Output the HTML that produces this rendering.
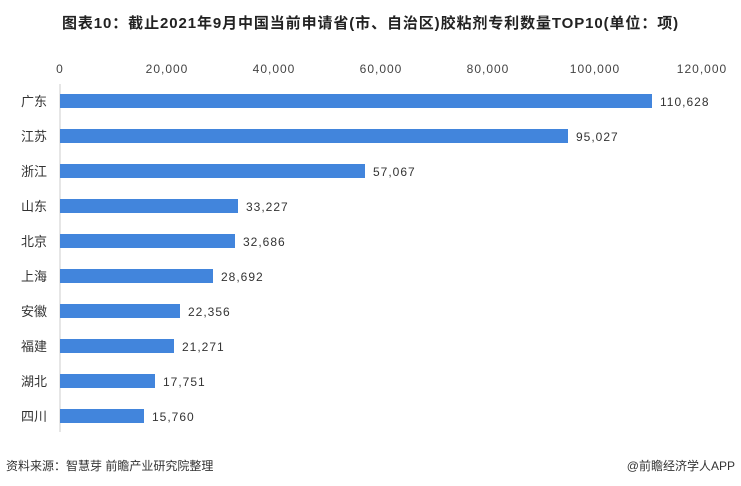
<!DOCTYPE html>
<html><head><meta charset="utf-8"><style>
body{margin:0;background:#fff;width:741px;height:486px;overflow:hidden;position:relative;font-family:"Liberation Sans","Noto Sans CJK SC",sans-serif;color:#333}
.t{position:absolute;white-space:nowrap}
</style></head><body>
<div class="t" style="left:0;width:741px;top:12px;text-align:center;font-size:15px;font-weight:bold;color:#222;letter-spacing:0.9px">图表10：截止2021年9月中国当前申请省(市、自治区)胶粘剂专利数量TOP10(单位：项)</div>
<svg width="741" height="486" style="position:absolute;left:0;top:0" font-family="Liberation Sans, Noto Sans CJK SC, sans-serif">
<g font-size="12" fill="#444" text-anchor="middle" letter-spacing="1">
<text x="60" y="73">0</text><text x="167" y="73">20,000</text><text x="274" y="73">40,000</text><text x="381" y="73">60,000</text><text x="488" y="73">80,000</text><text x="595" y="73">100,000</text><text x="702" y="73">120,000</text>
</g>
<line x1="60" y1="84" x2="60" y2="432" stroke="#ccc"/>
<g fill="#4285dc">
<rect x="60" y="94" width="592" height="14"/>
<rect x="60" y="129" width="508" height="14"/>
<rect x="60" y="164" width="305" height="14"/>
<rect x="60" y="199" width="178" height="14"/>
<rect x="60" y="234" width="175" height="14"/>
<rect x="60" y="269" width="153" height="14"/>
<rect x="60" y="304" width="120" height="14"/>
<rect x="60" y="339" width="114" height="14"/>
<rect x="60" y="374" width="95" height="14"/>
<rect x="60" y="409" width="84" height="14"/>
</g>
<g font-size="13" fill="#333" text-anchor="end">
<text x="47" y="106">广东</text><text x="47" y="141">江苏</text><text x="47" y="176">浙江</text><text x="47" y="211">山东</text><text x="47" y="246">北京</text><text x="47" y="281">上海</text><text x="47" y="316">安徽</text><text x="47" y="351">福建</text><text x="47" y="386">湖北</text><text x="47" y="421">四川</text>
</g>
<g font-size="12" fill="#333" letter-spacing="1">
<text x="660" y="106">110,628</text><text x="576" y="141">95,027</text><text x="373" y="176">57,067</text><text x="246" y="211">33,227</text><text x="243" y="246">32,686</text><text x="221" y="281">28,692</text><text x="188" y="316">22,356</text><text x="182" y="351">21,271</text><text x="163" y="386">17,751</text><text x="152" y="421">15,760</text>
</g>
</svg>
<div class="t" style="left:6px;top:457px;font-size:12px">资料来源：智慧芽 前瞻产业研究院整理</div>
<div class="t" style="right:6px;top:457px;font-size:12px">@前瞻经济学人APP</div>
</body></html>
